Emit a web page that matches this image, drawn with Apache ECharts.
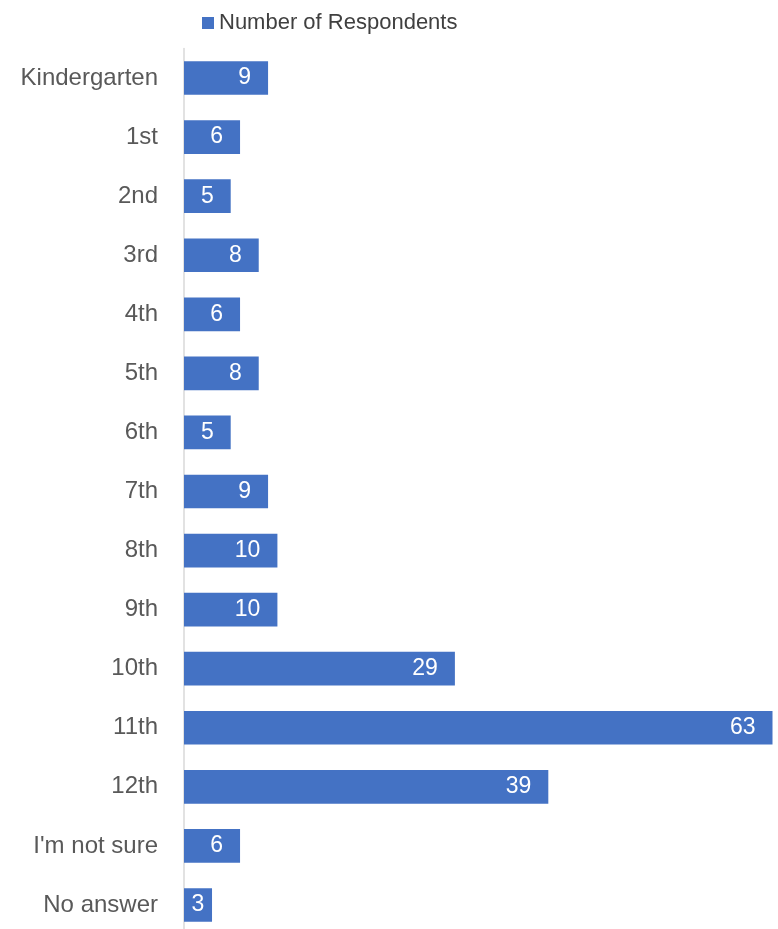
<!DOCTYPE html>
<html>
<head>
<meta charset="utf-8">
<script src="https://cdn.jsdelivr.net/npm/echarts@6/dist/echarts.min.js"></script>
<style>
  html, body { margin: 0; padding: 0; background: #fff; }
  #main { width: 778px; height: 929px; }
</style>
</head>
<body>
<div id="main"></div>
<script>
var grades = ['Kindergarten', '1st', '2nd', '3rd', '4th', '5th', '6th', '7th', '8th', '9th', '10th', '11th', '12th', "I'm not sure", 'No answer'];
var respondents = [9, 6, 5, 8, 6, 8, 5, 9, 10, 10, 29, 63, 39, 6, 3];

var chart = echarts.init(document.getElementById('main'));
var option = {
    animation: false,
    textStyle: { fontFamily: 'Liberation Sans' },
    legend: {
        left: 197,
        top: 7,
        itemWidth: 12,
        itemHeight: 12,
        itemGap: 6,
        icon: 'rect',
        textStyle: { fontSize: 22, color: '#404040', fontFamily: 'Liberation Sans' },
        data: ['Number of Respondents']
    },
    grid: {
        left: 184,
        right: 5.5,
        top: 48.5,
        bottom: -5.5,
        outerBoundsMode: 'none',
        containLabel: false
    },
    xAxis: {
        type: 'value',
        min: 0,
        max: 63,
        show: false
    },
    yAxis: {
        type: 'category',
        inverse: true,
        data: grades,
        axisLine: { show: true, lineStyle: { color: '#d9d9d9', width: 1.5 } },
        axisTick: { show: false },
        axisLabel: { fontSize: 24, color: '#595959', margin: 26, fontFamily: 'Liberation Sans' }
    },
    series: [{
        name: 'Number of Respondents',
        type: 'bar',
        data: respondents.map(function (v) {
            // short bars: Excel centres the label in the bar
            return v < 4 ? { value: v, label: { position: 'inside' } } : v;
        }),
        barCategoryGap: '43%',
        itemStyle: { color: '#4472C4' },
        label: {
            show: true,
            position: 'insideRight',
            distance: 17,
            color: '#ffffff',
            fontSize: 23,
            fontFamily: 'Liberation Sans'
        }
    }]
};
chart.setOption(option);
window.onresize = chart.resize;
</script>
</body>
</html>
